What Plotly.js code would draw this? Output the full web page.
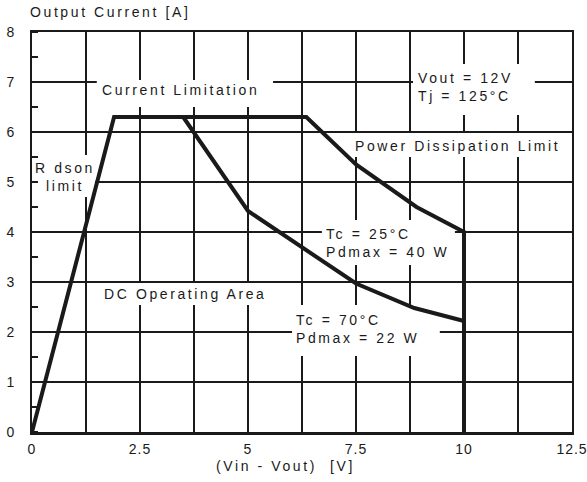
<!DOCTYPE html>
<html>
<head>
<meta charset="utf-8">
<script src="https://cdn.plot.ly/plotly-3.0.1.min.js"></script>
<style>
  html, body { margin: 0; padding: 0; background: #fff; }
  #chart { width: 587px; height: 482px; }
  .annotation-text { letter-spacing: 2.6px; }
  .xtick text, .ytick text { letter-spacing: 1px; }
</style>
</head>
<body>
<div id="chart"></div>
<script>
// ---- data ----
const outerX = [0, 1.9, 6.35, 7.5, 8.9, 10, 10];        // Tc = 25°C envelope
const outerY = [0, 6.3, 6.3, 5.35, 4.5, 4.0, 0];
const innerX = [3.5, 5.0, 7.5, 8.85, 10];                 // Tc = 70°C curve
const innerY = [6.3, 4.42, 2.97, 2.48, 2.22];
const xTickVals = [0, 2.5, 5, 7.5, 10, 12.5];
const xTickText = ['0', '2.5', '5', '7.5', '10', '12.5'];
const yTickVals = [0, 1, 2, 3, 4, 5, 6, 7, 8];

const labels = [
  {text: 'Current Limitation', x: 1.57, y: 6.84, anchor: 'left'},
  {text: 'Vout = 12V<br>Tj = 125°C', x: 8.9, y: 6.9, anchor: 'left'},
  {text: 'Power Dissipation Limit', x: 7.42, y: 5.72, anchor: 'left'},
  {text: 'R dson<br>limit', x: 0.76, y: 5.1, anchor: 'center'},
  {text: 'DC Operating Area', x: 1.62, y: 2.76, anchor: 'left'},
  {text: 'Tc = 25°C<br>Pdmax = 40 W', x: 6.75, y: 3.79, anchor: 'left'},
  {text: 'Tc = 70°C<br>Pdmax = 22 W', x: 6.06, y: 2.06, anchor: 'left'}
];
// white boxes behind the labels (gridlines are interrupted there)
const boxes = [
  [1.50, 5.58, 6.50, 7.04],
  [8.82, 11.64, 6.34, 7.36],
  [7.36, 12.34, 5.50, 5.98],
  [0.09, 1.46, 4.70, 5.54],
  [1.53, 5.63, 2.54, 2.98],
  [6.71, 9.79, 3.34, 4.24],
  [6.02, 9.44, 1.52, 2.54]
];

const FONT = 'Liberation Sans, Arial, Helvetica, sans-serif';
const INK = '#1a1a1a';

const traces = [
  {x: outerX, y: outerY, type: 'scatter', mode: 'lines',
   line: {color: INK, width: 4}, hoverinfo: 'skip', showlegend: false},
  {x: innerX, y: innerY, type: 'scatter', mode: 'lines',
   line: {color: INK, width: 4}, hoverinfo: 'skip', showlegend: false}
];

const annotations = labels.map(l => ({
  text: l.text, x: l.x, y: l.y, xref: 'x', yref: 'y',
  xanchor: l.anchor, yanchor: 'middle', align: l.anchor === 'center' ? 'center' : 'left',
  showarrow: false, font: {family: FONT, size: 14, color: INK}
}));
annotations.push({
  text: 'Output Current [A]', xref: 'paper', yref: 'paper', x: -0.008, y: 1.05,
  xanchor: 'left', yanchor: 'middle', showarrow: false,
  font: {family: FONT, size: 14, color: INK}
});
annotations.push({
  text: '(Vin - Vout)  [V]', xref: 'paper', yref: 'paper', x: 0.47, y: -0.085,
  xanchor: 'center', yanchor: 'middle', showarrow: false,
  font: {family: FONT, size: 14, color: INK}
});

const shapes = boxes.map(b => ({
  type: 'rect', xref: 'x', yref: 'y', x0: b[0], x1: b[1], y0: b[2], y1: b[3],
  fillcolor: '#ffffff', line: {width: 0}, layer: 'between'
}));

const layout = {
  width: 587, height: 482,
  margin: {l: 32, r: 15, t: 32, b: 50, pad: 0},
  paper_bgcolor: '#ffffff', plot_bgcolor: '#ffffff',
  font: {family: FONT, size: 14, color: INK},
  showlegend: false,
  xaxis: {
    range: [0, 12.5], tickvals: xTickVals, ticktext: xTickText,
    showgrid: true, gridcolor: INK, gridwidth: 1.3,
    minor: {dtick: 1.25, tick0: 0, showgrid: true, gridcolor: INK, gridwidth: 1.3, ticks: ''},
    zeroline: false, showline: true, linecolor: INK, linewidth: 2.5, mirror: true,
    ticks: '', ticklabelstandoff: 3, ticklabeloverflow: 'allow',
    tickfont: {family: FONT, size: 14, color: INK},
    fixedrange: true
  },
  yaxis: {
    range: [0, 8], tickvals: yTickVals,
    showgrid: true, gridcolor: INK, gridwidth: 1.3,
    minor: {dtick: 0.5, tick0: 0, ticks: 'inside', ticklen: 6, tickwidth: 1.3, tickcolor: INK, showgrid: false},
    zeroline: false, showline: true, linecolor: INK, linewidth: 2, mirror: true,
    ticks: '', ticklabelstandoff: 12, tickfont: {family: FONT, size: 14, color: INK},
    fixedrange: true
  },
  shapes: shapes,
  annotations: annotations
};

Plotly.newPlot('chart', traces, layout, {displayModeBar: false, staticPlot: true});
</script>
</body>
</html>
